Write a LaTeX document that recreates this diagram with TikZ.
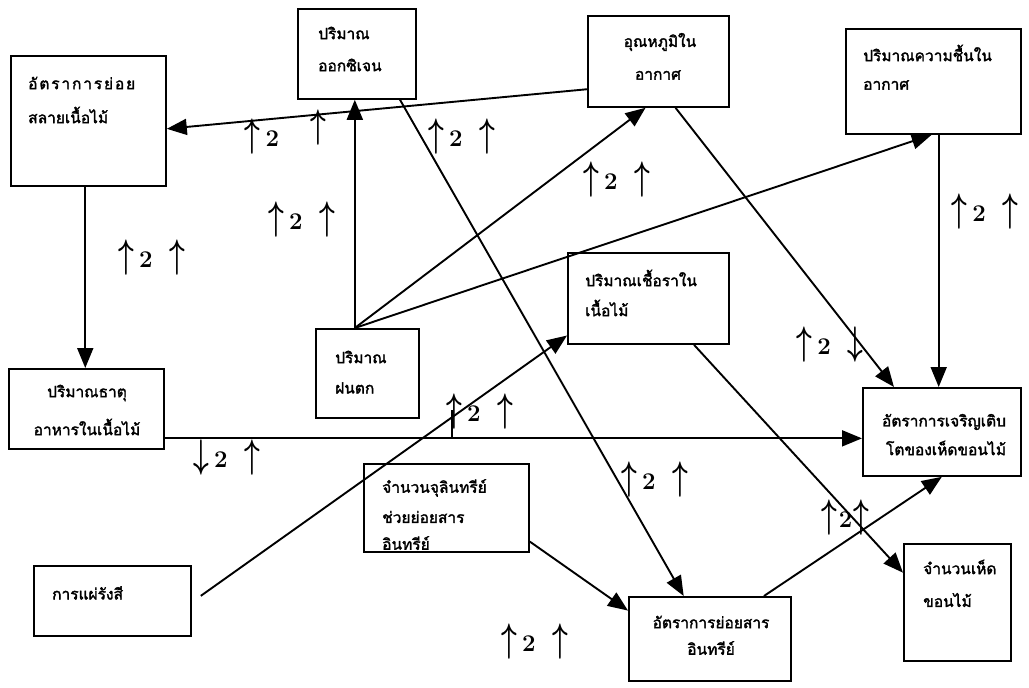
\documentclass[tikz,border=0pt]{standalone}
\usepackage{fontspec}
\newfontfamily\thaifont[Script=Thai,FakeBold=2]{Loma}
\usetikzlibrary{arrows.meta,calc}
% tall arrows used in the sign labels
\newcommand{\arrU}{\scalebox{1.1}[1.6]{\boldmath$\uparrow$}}
\newcommand{\arrD}{\scalebox{1.1}[1.6]{\boldmath$\downarrow$}}
\newcommand{\two}{{\bfseries 2}}
\newcommand{\sgn}[2]{#1\hspace{5pt}\two\hspace{17pt}#2}
\begin{document}
\begin{tikzpicture}[x=1pt,y=-1pt,
  box/.style={draw, line width=1.8pt, anchor=north west, inner sep=0pt},
  txt/.style={font=\thaifont\fontsize{15.5}{17}\selectfont, anchor=west, inner sep=0pt},
  ctxt/.style={font=\thaifont\fontsize{15.5}{17}\selectfont, anchor=center, inner sep=0pt},
  link/.style={line width=1.9pt, -{Triangle[length=20pt,width=16pt]}},
  plain/.style={line width=1.9pt},
  lbl/.style={font=\fontsize{24}{24}\selectfont, inner sep=0pt}
]
\useasboundingbox (0,0) rectangle (1029,688);
\fill[white] (0,0) rectangle (1029,688);

% boxes
\node[box, minimum width=155pt, minimum height=130pt] (b1) at (10,55) {};
\node[box, minimum width=118pt, minimum height=90pt] (b2) at (297,8) {};
\node[box, minimum width=141pt, minimum height=91pt] (b3) at (587,15) {};
\node[box, minimum width=175pt, minimum height=105pt] (b4) at (845,28) {};
\node[box, minimum width=155pt, minimum height=80pt] (b5) at (8,368) {};
\node[box, minimum width=165pt, minimum height=88pt] (b6) at (363,463) {};
\node[box, minimum width=161pt, minimum height=91pt] (b7) at (567,252) {};
\node[box, minimum width=158pt, minimum height=88pt] (b8) at (862,387) {};
\node[box, minimum width=162pt, minimum height=84pt] (b9) at (628,596) {};
\node[box, minimum width=107pt, minimum height=117pt] (b10) at (903,543) {};
\node[box, minimum width=157pt, minimum height=70pt] (b11) at (33,565) {};
\node[box, minimum width=103pt, minimum height=89pt] (b12) at (315,328) {};

% box texts
\node[txt] (t1a) at (28,83) {\addfontfeature{LetterSpace=12}อัตราการย่อย};
\node[txt] (t1b) at (28,115) {สลายเนื้อไม้};
\node[txt] (t2a) at (318,33) {ปริมาณ};
\node[txt] (t2b) at (318,65) {ออกซิเจน};
\node[ctxt] (t3a) at (660,42) {อุณหภูมิใน};
\node[ctxt] (t3b) at (658,75) {อากาศ};
\node[txt] (t4a) at (863,53) {ปริมาณความชื้นใน};
\node[txt] (t4b) at (863,85) {อากาศ};
\node[ctxt] (t5a) at (87,393) {ปริมาณธาตุ};
\node[ctxt] (t5b) at (87,427) {อาหารในเนื้อไม้};
\node[txt] (t6a) at (382,488) {จำนวนจุลินทรีย์};
\node[txt] (t6b) at (382,517) {ช่วยย่อยสาร};
\node[txt] (t6c) at (382,543) {อินทรีย์};
\node[txt] (t7a) at (585,278) {ปริมาณเชื้อราใน};
\node[txt] (t7b) at (585,308) {เนื้อไม้};
\node[ctxt] (t8a) at (944,422) {อัตราการเจริญเติบ};
\node[ctxt] (t8b) at (946,448) {โตของเห็ดขอนไม้};
\node[ctxt] (t9a) at (711,622) {อัตราการย่อยสาร};
\node[ctxt] (t9b) at (711,648) {อินทรีย์};
\node[txt] (t10a) at (923,567) {จำนวนเห็ด};
\node[txt] (t10b) at (923,600) {ขอนไม้};
\node[txt] (t11) at (52,593) {การแผ่รังสี};
\node[txt] (t12a) at (335,357) {ปริมาณ};
\node[txt] (t12b) at (335,388) {ฝนตก};

% connectors
\draw[link] ($(b3.north west)!0.8!(b3.south west)$) -- ($(b1.north east)!0.56!(b1.south east)$);
\coordinate (rt) at ($(b12.north west)!0.38!(b12.north east)$);
\draw[link] (rt) -- (rt |- b2.south);
\draw[link] (rt) -- ($(b3.south west)!0.41!(b3.south east)$);
\draw[link] (rt) -- ($(b4.south west)!0.49!(b4.south east)$);
\coordinate (hb) at ($(b4.south west)!0.53!(b4.south east)$);
\draw[link] (hb) -- (hb |- b8.north);
\draw[link] ($(b2.south west)!0.86!(b2.south east)$) -- ($(b9.north west)!0.34!(b9.north east)$);
\draw[link] ($(b3.south west)!0.62!(b3.south east)$) -- ($(b8.north west)!0.2!(b8.north east)$);
\coordinate (db) at ($(b1.south west)!0.48!(b1.south east)$);
\draw[link] (db) -- (db |- b5.north);
\coordinate (nr) at ($(b5.north east)!0.86!(b5.south east)$);
\draw[link] (nr) -- (nr -| b8.west);
\coordinate (tick) at (452,410);
\draw[plain] (tick) -- (tick |- nr);
\draw[link] ($(b11.north east)!0.43!(b11.south east)+(9,0)$) -- ($(b7.north west)!0.9!(b7.south west)$);
\draw[link] ($(b7.south west)!0.78!(b7.south east)$) -- ($(b10.north west)!0.25!(b10.south west)$);
\draw[link] ($(b6.north east)!0.875!(b6.south east)$) -- ($(b9.north west)!0.17!(b9.south west)$);
\draw[link] ($(b9.north west)!0.83!(b9.north east)$) -- (b8.south);

% sign labels
\node[lbl] (la) at (262,137) {\arrU\hspace{5pt}\two};
\node[lbl] (la2) at (318,128) {\arrU};
\node[lbl] (lb) at (462,137) {\sgn{\arrU}{\arrU}};
\node[lbl] (lc) at (302,220) {\sgn{\arrU}{\arrU}};
\node[lbl] (ld) at (617,180) {\sgn{\arrU}{\arrU}};
\node[lbl] (le) at (985,212) {\sgn{\arrU}{\arrU}};
\node[lbl] (lf) at (152,258) {\sgn{\arrU}{\arrU}};
\node[lbl] (lg) at (830,345) {\sgn{\arrU}{\arrD}};
\node[lbl] (lh) at (480,412) {\sgn{\arrU}{\arrU}};
\node[lbl] (li) at (227,458) {\sgn{\arrD}{\arrU}};
\node[lbl] (lj) at (655,480) {\sgn{\arrU}{\arrU}};
\node[lbl] (lk) at (845,518) {\arrU\hspace{2pt}\two\hspace{1pt}\arrU};
\node[lbl] (ll) at (535,642) {\sgn{\arrU}{\arrU}};
\end{tikzpicture}
\end{document}
